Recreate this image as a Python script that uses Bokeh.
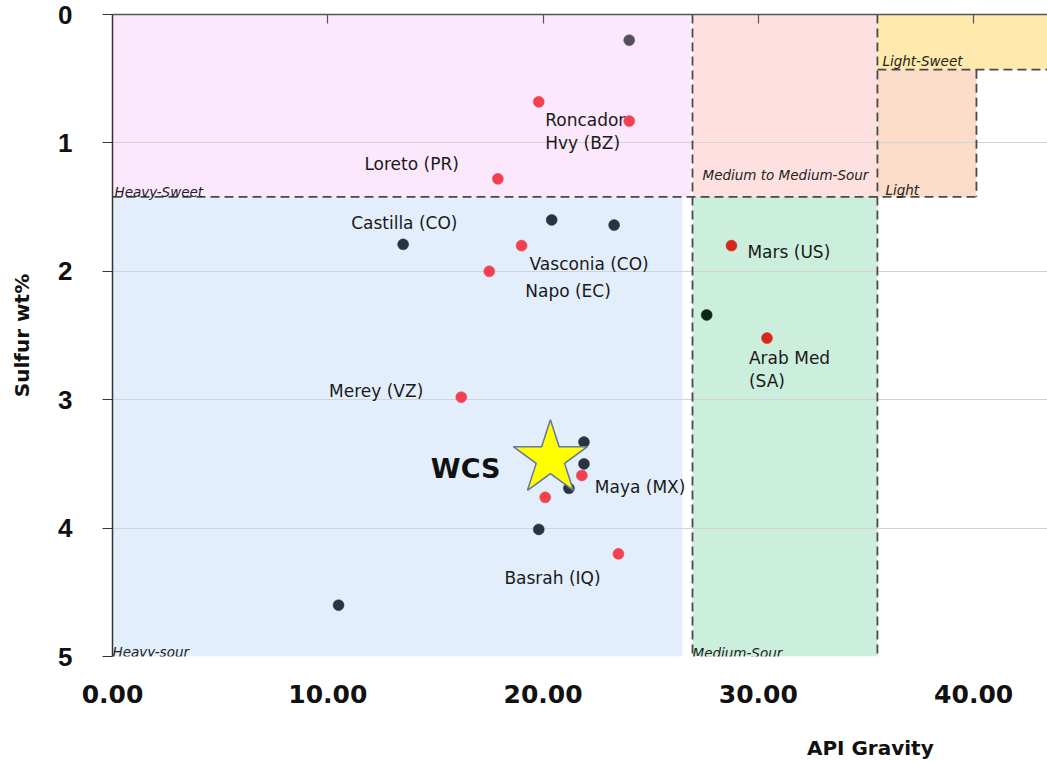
from bokeh.plotting import figure
from bokeh.models import (Range1d, LinearAxis, FixedTicker, NumeralTickFormatter,
                          CustomJSTickFormatter, ColumnDataSource)
from bokeh.core.properties import value
from bokeh.embed import file_html
from bokeh.resources import INLINE

# ---------------- data ----------------
crude_api = [24.0, 19.8, 24.0, 17.9, 20.4, 23.3, 13.5, 19.0, 17.5, 16.2,
             21.9, 21.9, 21.8, 21.2, 20.1, 19.8, 23.5, 10.5, 28.75, 27.6, 30.4]
crude_sulfur = [0.20, 0.68, 0.83, 1.28, 1.60, 1.64, 1.79, 1.80, 2.00, 2.98,
                3.33, 3.50, 3.59, 3.69, 3.76, 4.01, 4.20, 4.60, 1.80, 2.34, 2.52]
crude_group = ["gray", "red", "red", "red", "navy", "navy", "navy", "red", "red", "red",
               "navy", "navy", "red", "navy", "red", "navy", "red", "navy", "darkred", "green", "darkred"]
crude_name = ["", "", "Roncador\nHvy (BZ)", "Loreto (PR)", "", "", "Castilla (CO)",
              "Vasconia (CO)", "Napo (EC)", "Merey (VZ)", "", "", "Maya (MX)", "", "", "",
              "Basrah (IQ)", "", "Mars (US)", "", "Arab Med\n(SA)"]

wcs_api = [20.34]
wcs_sulfur = [3.46]
wcs_name = ["WCS"]

api_max = 43.43
region_name = ["Heavy-Sweet", "Heavy-sour", "Medium to Medium-Sour", "Medium-Sour", "Light", "Light-Sweet"]
region_api_lo = [0.0, -0.4, 26.94, 26.94, 35.53, 35.53]
region_api_hi = [26.85, 26.47, 35.53, 35.53, 40.13, api_max]
region_s_lo = [0.0, 1.42, 0.0, 1.42, 0.43, 0.0]
region_s_hi = [1.42, 5.0, 1.42, 5.0, 1.42, 0.43]

boundary_x0 = [0.0, 26.94, 35.53, 40.13, 35.53]
boundary_x1 = [40.13, 26.94, 35.53, 40.13, api_max]
boundary_y0 = [1.42, 0.0, 0.0, 0.43, 0.43]
boundary_y1 = [1.42, 5.0, 5.0, 1.42, 0.43]

x_ticks = [0, 10, 20, 30, 40]
y_ticks = [0, 1, 2, 3, 4, 5]
x_title = "API Gravity"
y_title = "Sulfur wt%"

# ---------------- styles ----------------
group_color = {"gray": "#554F5C", "red": "#F2404F", "navy": "#2A3343",
               "darkred": "#D5281C", "green": "#0C2812"}
region_color = {"Heavy-Sweet": "#FCE8FC", "Heavy-sour": "#E2EEFC",
                "Medium to Medium-Sour": "#FFE0E0", "Medium-Sour": "#CCEEDC",
                "Light": "#FADCC8", "Light-Sweet": "#FFE9AC"}
region_label_offset = {"Heavy-Sweet": (2, -5), "Heavy-sour": (0, -5),
                       "Medium to Medium-Sour": (10, -22), "Medium-Sour": (0, -4),
                       "Light": (8, -7), "Light-Sweet": (5, -9)}
label_style = {
    "Roncador\nHvy (BZ)": (-84, -11, "left", "top"),
    "Loreto (PR)": (-39, -15, "right", "middle"),
    "Castilla (CO)": (-52, -21, "left", "middle"),
    "Vasconia (CO)": (8, 18, "left", "middle"),
    "Napo (EC)": (36, 20, "left", "middle"),
    "Merey (VZ)": (-38, -6, "right", "middle"),
    "Maya (MX)": (13, 12, "left", "middle"),
    "Basrah (IQ)": (-114, 24, "left", "middle"),
    "Mars (US)": (16, 6, "left", "middle"),
    "Arab Med\n(SA)": (-18, 10, "left", "top"),
}
FONT = "DejaVu Sans"

p = figure(width=1047, height=762, x_range=Range1d(0, api_max), y_range=Range1d(5, 0),
           output_backend="svg", toolbar_location=None,
           min_border_left=112, min_border_right=0, min_border_top=14, min_border_bottom=106)
p.outline_line_color = None
p.background_fill_color = "white"
p.xgrid.visible = False
p.ygrid.ticker = FixedTicker(ticks=y_ticks[1:])
p.ygrid.grid_line_color = "#D3D3D3"
p.ygrid.grid_line_width = 1.2

# regions
reg = ColumnDataSource(dict(l=region_api_lo, r=region_api_hi, t=region_s_lo, b=region_s_hi,
                            c=[region_color[n] for n in region_name]))
p.quad(left="l", right="r", top="t", bottom="b", fill_color="c", line_color=None,
       source=reg, level="image")

# dashed boundaries
p.segment(x0=boundary_x0, y0=boundary_y0, x1=boundary_x1, y1=boundary_y1,
          line_color="#4A4A4A", line_width=1.8, line_dash="9 5")

# region labels
for i, n in enumerate(region_name):
    xo, yo = region_label_offset[n]
    p.text(x=[max(region_api_lo[i], 0.0)], y=[region_s_hi[i]], text=[n],
           x_offset=xo, y_offset=yo, text_font=value(FONT), text_font_size="13.5px",
           text_font_style="italic", text_color="#222222", text_baseline="alphabetic",
           text_align="left")

# points
pts = ColumnDataSource(dict(x=crude_api, y=crude_sulfur,
                            c=[group_color[g] for g in crude_group]))
p.scatter(x="x", y="y", source=pts, size=11, fill_color="c", line_color="c", line_width=0.5)

# point labels
for i, n in enumerate(crude_name):
    if not n:
        continue
    xo, yo, al, bl = label_style[n]
    p.text(x=[crude_api[i]], y=[crude_sulfur[i]], text=[n], x_offset=xo, y_offset=yo,
           text_align=al, text_baseline=bl, text_font=value(FONT), text_font_size="17px",
           text_color="#1A1A1A", text_line_height=1.16)

# WCS star
p.scatter(x=wcs_api, y=wcs_sulfur, marker="star", size=78, fill_color="#FFFF00",
          line_color="#62769E", line_width=1.5)
p.text(x=wcs_api, y=wcs_sulfur, text=wcs_name, x_offset=-50, y_offset=10,
       text_align="right", text_baseline="middle", text_font=value(FONT),
       text_font_size="27px", text_font_style="bold", text_color="#111111")

# x axis (labels only)
xa = p.xaxis[0]
xa.ticker = FixedTicker(ticks=x_ticks)
xa.formatter = NumeralTickFormatter(format="0.00")
xa.axis_line_color = None
xa.major_tick_line_color = None
xa.minor_tick_line_color = None
xa.major_label_standoff = 22
xa.major_label_text_font = FONT
xa.major_label_text_font_size = "25px"
xa.major_label_text_font_style = "bold"
xa.major_label_text_color = "#111111"

# top axis line with inward ticks
top = LinearAxis(ticker=FixedTicker(ticks=x_ticks[1:]), major_tick_in=9, major_tick_out=0,
                 minor_tick_line_color=None, axis_line_color="#555555", axis_line_width=1.5,
                 major_tick_line_color="#555555", major_tick_line_width=1.2,
                 major_label_text_font_size="0px", major_label_standoff=0,
                 major_label_text_alpha=0)
p.add_layout(top, "above")

# x title placed under the right part
xt = LinearAxis(ticker=FixedTicker(ticks=[35.2]),
                formatter=CustomJSTickFormatter(code="return '%s'" % x_title),
                axis_line_color=None, major_tick_line_color=None, minor_tick_line_color=None,
                major_label_standoff=24, major_label_text_font=FONT,
                major_label_text_font_size="20px", major_label_text_font_style="bold",
                major_label_text_color="#111111")
p.add_layout(xt, "below")

# y axis
ya = p.yaxis[0]
ya.ticker = FixedTicker(ticks=y_ticks)
ya.axis_line_color = "#333333"
ya.axis_line_width = 1.5
ya.major_tick_in = 0
ya.major_tick_out = 10
ya.major_tick_line_color = "#333333"
ya.major_tick_line_width = 1.2
ya.minor_tick_line_color = None
ya.major_label_standoff = 30
ya.major_label_text_font = "Liberation Sans"
ya.major_label_text_font_size = "26px"
ya.major_label_text_font_style = "bold"
ya.major_label_text_color = "#111111"
ya.axis_label = y_title
ya.axis_label_standoff = 21
ya.axis_label_text_font = FONT
ya.axis_label_text_font_size = "20px"
ya.axis_label_text_font_style = "bold"
ya.axis_label_text_color = "#111111"

open("out.html", "w").write(file_html(p, INLINE))
